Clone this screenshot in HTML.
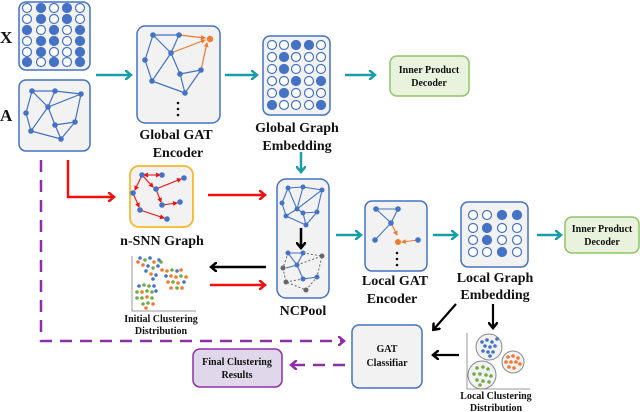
<!DOCTYPE html>
<html><head><meta charset="utf-8"><style>
html,body{margin:0;padding:0;background:#fff}
svg{display:block}
svg text{font-family:"Liberation Serif","DejaVu Serif",serif !important;font-weight:bold;fill:#111}
</style></head><body>
<svg width="640" height="412" viewBox="0 0 640 412" xmlns="http://www.w3.org/2000/svg" font-family="Liberation Serif, DejaVu Serif, serif" font-weight="bold">
<defs>
<marker id="mt" markerWidth="8" markerHeight="10" refX="5" refY="5" orient="auto" markerUnits="userSpaceOnUse"><path d="M0,0 L6,5 L0,10" fill="none" stroke="#1a9ea6" stroke-width="2.5"/></marker>
<marker id="mr" markerWidth="8" markerHeight="10" refX="5" refY="5" orient="auto" markerUnits="userSpaceOnUse"><path d="M0,0 L6,5 L0,10" fill="none" stroke="#f01010" stroke-width="2.5"/></marker>
<marker id="mk" markerWidth="8" markerHeight="10" refX="5" refY="5" orient="auto" markerUnits="userSpaceOnUse"><path d="M0,0 L6,5 L0,10" fill="none" stroke="#000" stroke-width="2.5"/></marker>
<marker id="mp" markerWidth="8" markerHeight="10" refX="5" refY="5" orient="auto" markerUnits="userSpaceOnUse"><path d="M0,0 L6,5 L0,10" fill="none" stroke="#8e2fa6" stroke-width="2.5"/></marker>
<marker id="sr" markerWidth="5" markerHeight="5" refX="4" refY="2.5" orient="auto" markerUnits="userSpaceOnUse"><path d="M0,0 L5,2.5 L0,5z" fill="#f01010"/></marker>
<marker id="so" markerWidth="5" markerHeight="5" refX="4" refY="2.5" orient="auto" markerUnits="userSpaceOnUse"><path d="M0,0 L5,2.5 L0,5z" fill="#f07a30"/></marker>
</defs>

<text x="0" y="43" font-size="17">X</text>
<text x="0" y="121" font-size="17">A</text>

<!-- X matrix -->
<rect x="19" y="2" width="71" height="68" rx="7" fill="#f2f2f2" stroke="#4472c4" stroke-width="1.5"/>
<g stroke="#4472c4" stroke-width="1.2" fill="#fff">
<circle cx="27" cy="8" r="4.5"/><circle cx="41" cy="8" r="4.5" fill="#4472c4"/><circle cx="54" cy="8" r="4.5"/><circle cx="67" cy="8" r="4.5" fill="#4472c4"/><circle cx="80" cy="8" r="4.5"/>
<circle cx="27" cy="19" r="4.5"/><circle cx="41" cy="19" r="4.5" fill="#4472c4"/><circle cx="54" cy="19" r="4.5"/><circle cx="67" cy="19" r="4.5" fill="#4472c4"/><circle cx="80" cy="19" r="4.5"/>
<circle cx="27" cy="30" r="4.5" fill="#4472c4"/><circle cx="41" cy="30" r="4.5"/><circle cx="54" cy="30" r="4.5" fill="#4472c4"/><circle cx="67" cy="30" r="4.5"/><circle cx="80" cy="30" r="4.5" fill="#4472c4"/>
<circle cx="27" cy="41" r="4.5"/><circle cx="41" cy="41" r="4.5" fill="#4472c4"/><circle cx="54" cy="41" r="4.5" fill="#4472c4"/><circle cx="67" cy="41" r="4.5"/><circle cx="80" cy="41" r="4.5" fill="#4472c4"/>
<circle cx="27" cy="52" r="4.5"/><circle cx="41" cy="52" r="4.5" fill="#4472c4"/><circle cx="54" cy="52" r="4.5"/><circle cx="67" cy="52" r="4.5"/><circle cx="80" cy="52" r="4.5" fill="#4472c4"/>
<circle cx="27" cy="62" r="4.5" fill="#4472c4"/><circle cx="41" cy="62" r="4.5"/><circle cx="54" cy="62" r="4.5" fill="#4472c4"/><circle cx="67" cy="62" r="4.5"/><circle cx="80" cy="62" r="4.5" fill="#4472c4"/>
</g>

<!-- A graph -->
<rect x="19" y="80" width="71" height="71" rx="7" fill="#f2f2f2" stroke="#4472c4" stroke-width="1.5"/>
<g stroke="#4472c4" stroke-width="1.2" fill="none">
<path d="M32,91 L55,91 L81,94 L48,107 L32,91 L26,113 L31,131 L48,107 L55,91 M81,94 L75,122 L61,139 L55,125 L48,107 M55,125 L75,122 M31,131 L61,139"/>
</g>
<g fill="#4472c4"><circle cx="32" cy="91" r="2.8"/><circle cx="55" cy="91" r="2.8"/><circle cx="81" cy="94" r="2.8"/><circle cx="48" cy="107" r="2.8"/><circle cx="26" cy="113" r="2.8"/><circle cx="31" cy="131" r="2.8"/><circle cx="55" cy="125" r="2.8"/><circle cx="75" cy="122" r="2.8"/><circle cx="61" cy="139" r="2.8"/></g>

<!-- teal arrows -->
<g stroke="#1a9ea6" stroke-width="2.5" fill="none">
<line x1="96" y1="75" x2="130" y2="75" marker-end="url(#mt)"/>
<line x1="225" y1="75" x2="256" y2="75" marker-end="url(#mt)"/>
<line x1="345" y1="75" x2="374" y2="75" marker-end="url(#mt)"/>
<line x1="301" y1="152" x2="301" y2="171" marker-end="url(#mt)"/>
<line x1="336" y1="235" x2="360" y2="235" marker-end="url(#mt)"/>
<line x1="433" y1="235" x2="456" y2="235" marker-end="url(#mt)"/>
<line x1="537" y1="235" x2="560" y2="235" marker-end="url(#mt)"/>
</g>

<!-- Global GAT -->
<rect x="137" y="26" width="83" height="97" rx="8" fill="#f2f2f2" stroke="#4472c4" stroke-width="1.5"/>
<g stroke="#4472c4" stroke-width="1.2" fill="none">
<path d="M153,35 L179,35 L171,53 L153,35 L145,60 L152,81 L171,53 L180,74 L185,93 L201,70 M152,81 L185,93 M180,74 L201,70"/>
</g>
<g stroke="#f07a30" stroke-width="1.2" fill="none">
<line x1="179" y1="35" x2="205" y2="38" marker-end="url(#so)"/>
<line x1="171" y1="53" x2="205" y2="40" marker-end="url(#so)"/>
<line x1="201" y1="70" x2="207" y2="43" marker-end="url(#so)"/>
</g>
<g fill="#4472c4"><circle cx="153" cy="35" r="2.8"/><circle cx="179" cy="35" r="2.8"/><circle cx="171" cy="53" r="2.8"/><circle cx="145" cy="60" r="2.8"/><circle cx="152" cy="81" r="2.8"/><circle cx="180" cy="74" r="2.8"/><circle cx="201" cy="70" r="2.8"/><circle cx="185" cy="93" r="2.8"/></g>
<circle cx="210" cy="39" r="3.2" fill="#f07a30"/>
<g fill="#111"><circle cx="178" cy="103" r="1.3"/><circle cx="178" cy="109" r="1.3"/><circle cx="178" cy="115" r="1.3"/></g>
<text x="176" y="139" font-size="14" text-anchor="middle">Global GAT</text>
<text x="178" y="157" font-size="14" text-anchor="middle">Encoder</text>

<!-- Global embedding -->
<rect x="263" y="36" width="67" height="79" rx="7" fill="#f2f2f2" stroke="#4472c4" stroke-width="1.5"/>
<g stroke="#4472c4" stroke-width="1.2" fill="#fff">
<circle cx="272" cy="45" r="4.5"/><circle cx="284" cy="45" r="4.5"/><circle cx="296" cy="45" r="4.5" fill="#4472c4"/><circle cx="309" cy="45" r="4.5" fill="#4472c4"/><circle cx="321" cy="45" r="4.5"/>
<circle cx="272" cy="57" r="4.5"/><circle cx="284" cy="57" r="4.5" fill="#4472c4"/><circle cx="296" cy="57" r="4.5"/><circle cx="309" cy="57" r="4.5"/><circle cx="321" cy="57" r="4.5"/>
<circle cx="272" cy="69" r="4.5"/><circle cx="284" cy="69" r="4.5" fill="#4472c4"/><circle cx="296" cy="69" r="4.5"/><circle cx="309" cy="69" r="4.5"/><circle cx="321" cy="69" r="4.5"/>
<circle cx="272" cy="81" r="4.5"/><circle cx="284" cy="81" r="4.5"/><circle cx="296" cy="81" r="4.5" fill="#4472c4"/><circle cx="309" cy="81" r="4.5"/><circle cx="321" cy="81" r="4.5" fill="#4472c4"/>
<circle cx="272" cy="93" r="4.5"/><circle cx="284" cy="93" r="4.5" fill="#4472c4"/><circle cx="296" cy="93" r="4.5"/><circle cx="309" cy="93" r="4.5"/><circle cx="321" cy="93" r="4.5"/>
<circle cx="272" cy="105" r="4.5" fill="#4472c4"/><circle cx="284" cy="105" r="4.5"/><circle cx="296" cy="105" r="4.5"/><circle cx="309" cy="105" r="4.5"/><circle cx="321" cy="105" r="4.5" fill="#4472c4"/>
</g>
<text x="297" y="132" font-size="14" text-anchor="middle">Global Graph</text>
<text x="297" y="150" font-size="14" text-anchor="middle">Embedding</text>

<!-- decoders -->
<rect x="390" y="56" width="79" height="40" rx="7" fill="#e8f2dc" stroke="#8fc46a" stroke-width="1.5"/>
<text x="429" y="73" font-size="10" text-anchor="middle">Inner Product</text>
<text x="429" y="86" font-size="10" text-anchor="middle">Decoder</text>
<rect x="565" y="217" width="74" height="36" rx="7" fill="#e8f2dc" stroke="#8fc46a" stroke-width="1.5"/>
<text x="602" y="232" font-size="10" text-anchor="middle">Inner Product</text>
<text x="602" y="245" font-size="10" text-anchor="middle">Decoder</text>

<!-- red / purple from A -->
<polyline points="68,160 68,197 113,197" fill="none" stroke="#f01010" stroke-width="2.5" marker-end="url(#mr)"/>
<polyline points="41,160 41,341 343,341" fill="none" stroke="#8e2fa6" stroke-width="2.5" stroke-dasharray="12,8" marker-end="url(#mp)"/>

<!-- n-SNN -->
<rect x="130" y="166" width="63" height="61" rx="9" fill="#f2f2f2" stroke="#f5b82a" stroke-width="1.8"/>
<g stroke="#f01010" stroke-width="1.1" fill="none">
<line x1="142" y1="175" x2="160" y2="175" marker-end="url(#sr)"/>
<line x1="160" y1="175" x2="144" y2="175" marker-end="url(#sr)"/>
<line x1="142" y1="175" x2="135" y2="190" marker-end="url(#sr)"/>
<line x1="142" y1="175" x2="153" y2="187" marker-end="url(#sr)"/>
<line x1="156" y1="189" x2="181" y2="179" marker-end="url(#sr)"/>
<line x1="156" y1="189" x2="161" y2="202" marker-end="url(#sr)"/>
<line x1="133" y1="193" x2="139" y2="207" marker-end="url(#sr)"/>
<line x1="162" y1="205" x2="177" y2="203" marker-end="url(#sr)"/>
<line x1="140" y1="210" x2="164" y2="218" marker-end="url(#sr)"/>
</g>
<g fill="#4472c4"><circle cx="142" cy="175" r="2.8"/><circle cx="162" cy="175" r="2.8"/><circle cx="133" cy="193" r="2.8"/><circle cx="156" cy="189" r="2.8"/><circle cx="184" cy="178" r="2.8"/><circle cx="140" cy="210" r="2.8"/><circle cx="162" cy="205" r="2.8"/><circle cx="180" cy="202" r="2.8"/><circle cx="167" cy="219" r="2.8"/></g>
<text x="162" y="245" font-size="14" text-anchor="middle">n-SNN Graph</text>

<line x1="208" y1="195" x2="264" y2="195" stroke="#f01010" stroke-width="2.5" marker-end="url(#mr)"/>
<line x1="266" y1="267" x2="212" y2="267" stroke="#000" stroke-width="2.5" marker-end="url(#mk)"/>
<line x1="210" y1="285" x2="264" y2="285" stroke="#f01010" stroke-width="2.5" marker-end="url(#mr)"/>

<!-- Initial clustering -->
<path d="M132,256 L132,311 L196,311" fill="none" stroke="#999" stroke-width="1"/>
<g>
<circle cx="140" cy="258" r="1.8" fill="#4472c4"/><circle cx="145" cy="260" r="1.8" fill="#70ad47"/><circle cx="150" cy="258" r="1.8" fill="#4472c4"/><circle cx="154" cy="262" r="1.8" fill="#f07a30"/><circle cx="159" cy="260" r="1.8" fill="#4472c4"/><circle cx="143" cy="265" r="1.8" fill="#f07a30"/><circle cx="148" cy="266" r="1.8" fill="#4472c4"/><circle cx="153" cy="268" r="1.8" fill="#70ad47"/><circle cx="158" cy="266" r="1.8" fill="#4472c4"/><circle cx="162" cy="270" r="1.8" fill="#f07a30"/><circle cx="146" cy="271" r="1.8" fill="#4472c4"/><circle cx="151" cy="274" r="1.8" fill="#f07a30"/><circle cx="156" cy="275" r="1.8" fill="#4472c4"/><circle cx="161" cy="262" r="1.8" fill="#70ad47"/><circle cx="153" cy="279" r="1.8" fill="#4472c4"/><circle cx="138" cy="262" r="1.8" fill="#f07a30"/>
<circle cx="167" cy="271" r="1.8" fill="#f07a30"/><circle cx="172" cy="270" r="1.8" fill="#70ad47"/><circle cx="177" cy="271" r="1.8" fill="#4472c4"/><circle cx="181" cy="270" r="1.8" fill="#f07a30"/><circle cx="166" cy="276" r="1.8" fill="#4472c4"/><circle cx="171" cy="276" r="1.8" fill="#f07a30"/><circle cx="176" cy="277" r="1.8" fill="#f07a30"/><circle cx="181" cy="276" r="1.8" fill="#70ad47"/><circle cx="186" cy="277" r="1.8" fill="#f07a30"/><circle cx="168" cy="282" r="1.8" fill="#f07a30"/><circle cx="173" cy="282" r="1.8" fill="#70ad47"/><circle cx="178" cy="283" r="1.8" fill="#f07a30"/><circle cx="184" cy="282" r="1.8" fill="#4472c4"/><circle cx="171" cy="288" r="1.8" fill="#f07a30"/><circle cx="177" cy="288" r="1.8" fill="#70ad47"/><circle cx="182" cy="288" r="1.8" fill="#f07a30"/>
<circle cx="139" cy="286" r="1.8" fill="#4472c4"/><circle cx="144" cy="285" r="1.8" fill="#70ad47"/><circle cx="149" cy="286" r="1.8" fill="#70ad47"/><circle cx="154" cy="286" r="1.8" fill="#4472c4"/><circle cx="137" cy="292" r="1.8" fill="#70ad47"/><circle cx="142" cy="292" r="1.8" fill="#f07a30"/><circle cx="147" cy="291" r="1.8" fill="#70ad47"/><circle cx="152" cy="292" r="1.8" fill="#70ad47"/><circle cx="156" cy="291" r="1.8" fill="#4472c4"/><circle cx="137" cy="298" r="1.8" fill="#70ad47"/><circle cx="142" cy="298" r="1.8" fill="#70ad47"/><circle cx="147" cy="297" r="1.8" fill="#f07a30"/><circle cx="152" cy="298" r="1.8" fill="#70ad47"/><circle cx="143" cy="304" r="1.8" fill="#70ad47"/><circle cx="148" cy="303" r="1.8" fill="#70ad47"/><circle cx="153" cy="304" r="1.8" fill="#f07a30"/><circle cx="146" cy="308" r="1.8" fill="#f07a30"/>
</g>
<text x="161" y="322" font-size="10" text-anchor="middle">Initial Clustering</text>
<text x="161" y="334" font-size="10" text-anchor="middle">Distribution</text>

<!-- NCPool -->
<rect x="277" y="179" width="52" height="119" rx="9" fill="#f2f2f2" stroke="#4472c4" stroke-width="1.5"/>
<g stroke="#4472c4" stroke-width="1.1" fill="none">
<path d="M288,188 L303,187 L322,190 L297,209 L288,188 L282,203 L286,216 L297,209 L303,187 M322,190 L317,212 L306,225 L303,213 L297,209 M303,213 L317,212 M286,216 L306,225"/>
<path d="M288,253 L303,253 L297,265 L288,253 M297,265 L303,279 L317,277 M297,265 L286,268"/>
</g>
<g stroke="#666" stroke-width="1" stroke-dasharray="2,2" fill="none">
<path d="M303,253 L322,256 L317,277 L306,290 L286,282 L283,268 L288,253 M297,265 L322,256 M286,282 L303,279"/>
</g>
<g fill="#4472c4"><circle cx="288" cy="188" r="2.5"/><circle cx="303" cy="187" r="2.5"/><circle cx="322" cy="190" r="2.5"/><circle cx="297" cy="209" r="2.5"/><circle cx="282" cy="203" r="2.5"/><circle cx="286" cy="216" r="2.5"/><circle cx="303" cy="213" r="2.5"/><circle cx="317" cy="212" r="2.5"/><circle cx="306" cy="225" r="2.5"/>
<circle cx="288" cy="253" r="2.5"/><circle cx="303" cy="253" r="2.5"/><circle cx="297" cy="265" r="2.5"/><circle cx="303" cy="279" r="2.5"/><circle cx="317" cy="277" r="2.5"/></g>
<g fill="#666"><circle cx="322" cy="256" r="2.5"/><circle cx="283" cy="268" r="2.5"/><circle cx="306" cy="290" r="2.5"/><circle cx="286" cy="282" r="2.5"/></g>
<line x1="301" y1="228" x2="301" y2="247" stroke="#000" stroke-width="2.5" marker-end="url(#mk)"/>
<text x="303" y="315" font-size="14" text-anchor="middle">NCPool</text>

<!-- Local GAT -->
<rect x="365" y="201" width="62" height="70" rx="7" fill="#f2f2f2" stroke="#4472c4" stroke-width="1.5"/>
<g stroke="#4472c4" stroke-width="1.1" fill="none">
<path d="M376,209 L398,209 L391,223 L376,209 M391,223 L375,240"/>
</g>
<g stroke="#f07a30" stroke-width="1.1" fill="none">
<line x1="391" y1="223" x2="397" y2="235" marker-end="url(#so)"/>
<line x1="418" y1="240" x2="402" y2="242" marker-end="url(#so)"/>
</g>
<g fill="#4472c4"><circle cx="376" cy="209" r="2.8"/><circle cx="398" cy="209" r="2.8"/><circle cx="391" cy="223" r="2.8"/><circle cx="375" cy="240" r="2.8"/><circle cx="418" cy="240" r="2.8"/></g>
<circle cx="398" cy="242" r="3" fill="#f07a30"/>
<g fill="#111"><circle cx="397" cy="253" r="1.3"/><circle cx="397" cy="259" r="1.3"/><circle cx="397" cy="265" r="1.3"/></g>
<text x="395" y="285" font-size="14" text-anchor="middle">Local GAT</text>
<text x="392" y="303" font-size="14" text-anchor="middle">Encoder</text>

<!-- Local embedding -->
<rect x="461" y="202" width="67" height="65" rx="7" fill="#f2f2f2" stroke="#4472c4" stroke-width="1.5"/>
<g stroke="#4472c4" stroke-width="1.2" fill="#fff">
<circle cx="473" cy="215" r="4.5"/><circle cx="487" cy="215" r="4.5"/><circle cx="502" cy="215" r="4.5" fill="#4472c4"/><circle cx="517" cy="215" r="4.5" fill="#4472c4"/>
<circle cx="473" cy="228" r="4.5"/><circle cx="487" cy="228" r="4.5" fill="#4472c4"/><circle cx="502" cy="228" r="4.5"/><circle cx="517" cy="228" r="4.5"/>
<circle cx="473" cy="240" r="4.5"/><circle cx="487" cy="240" r="4.5" fill="#4472c4"/><circle cx="502" cy="240" r="4.5"/><circle cx="517" cy="240" r="4.5"/>
<circle cx="473" cy="252" r="4.5"/><circle cx="487" cy="252" r="4.5"/><circle cx="502" cy="252" r="4.5" fill="#4472c4"/><circle cx="517" cy="252" r="4.5"/>
</g>
<text x="495" y="282" font-size="14" text-anchor="middle">Local Graph</text>
<text x="495" y="299" font-size="14" text-anchor="middle">Embedding</text>

<line x1="456" y1="304" x2="434" y2="329" stroke="#000" stroke-width="2.2" marker-end="url(#mk)"/>
<line x1="493" y1="304" x2="493" y2="327" stroke="#000" stroke-width="2.2" marker-end="url(#mk)"/>
<line x1="459" y1="355" x2="434" y2="355" stroke="#000" stroke-width="2.2" marker-end="url(#mk)"/>

<!-- GAT classifier -->
<rect x="352" y="325" width="70" height="63" rx="7" fill="#f2f2f2" stroke="#4472c4" stroke-width="1.5"/>
<text x="387" y="352" font-size="10" text-anchor="middle">GAT</text>
<text x="387" y="366" font-size="10" text-anchor="middle">Classifiar</text>

<line x1="345" y1="365" x2="292" y2="365" stroke="#8e2fa6" stroke-width="2.5" stroke-dasharray="12,8" marker-end="url(#mp)"/>
<rect x="193" y="349" width="89" height="38" rx="7" fill="#e0d8ea" stroke="#8e2fa6" stroke-width="1.5"/>
<text x="237" y="365" font-size="10" text-anchor="middle">Final Clustering</text>
<text x="237" y="378" font-size="10" text-anchor="middle">Results</text>

<!-- Local clustering -->
<path d="M467,333 L467,389 L530,389" fill="none" stroke="#999" stroke-width="1"/>
<circle cx="489" cy="347" r="13" fill="#f2f2f2" stroke="#888"/>
<circle cx="513" cy="362" r="11" fill="#f2f2f2" stroke="#888"/>
<circle cx="482" cy="375" r="14" fill="#f2f2f2" stroke="#888"/>
<g fill="#4472c4"><circle cx="482" cy="342" r="1.8"/><circle cx="487" cy="340" r="1.8"/><circle cx="492" cy="342" r="1.8"/><circle cx="485" cy="346" r="1.8"/><circle cx="490" cy="347" r="1.8"/><circle cx="495" cy="346" r="1.8"/><circle cx="483" cy="351" r="1.8"/><circle cx="488" cy="352" r="1.8"/><circle cx="493" cy="352" r="1.8"/><circle cx="490" cy="356" r="1.8"/><circle cx="497" cy="339" r="1.8"/></g>
<g fill="#f07a30"><circle cx="508" cy="357" r="1.8"/><circle cx="513" cy="356" r="1.8"/><circle cx="518" cy="358" r="1.8"/><circle cx="506" cy="362" r="1.8"/><circle cx="511" cy="362" r="1.8"/><circle cx="516" cy="362" r="1.8"/><circle cx="520" cy="364" r="1.8"/><circle cx="509" cy="367" r="1.8"/><circle cx="514" cy="368" r="1.8"/></g>
<g fill="#70ad47"><circle cx="477" cy="368" r="1.8"/><circle cx="483" cy="367" r="1.8"/><circle cx="488" cy="369" r="1.8"/><circle cx="474" cy="374" r="1.8"/><circle cx="480" cy="374" r="1.8"/><circle cx="486" cy="375" r="1.8"/><circle cx="491" cy="376" r="1.8"/><circle cx="477" cy="380" r="1.8"/><circle cx="483" cy="381" r="1.8"/><circle cx="489" cy="382" r="1.8"/><circle cx="480" cy="385" r="1.8"/></g>
<text x="496" y="399" font-size="10" text-anchor="middle">Local Clustering</text>
<text x="496" y="411" font-size="10" text-anchor="middle">Distribution</text>
</svg>
</body></html>
